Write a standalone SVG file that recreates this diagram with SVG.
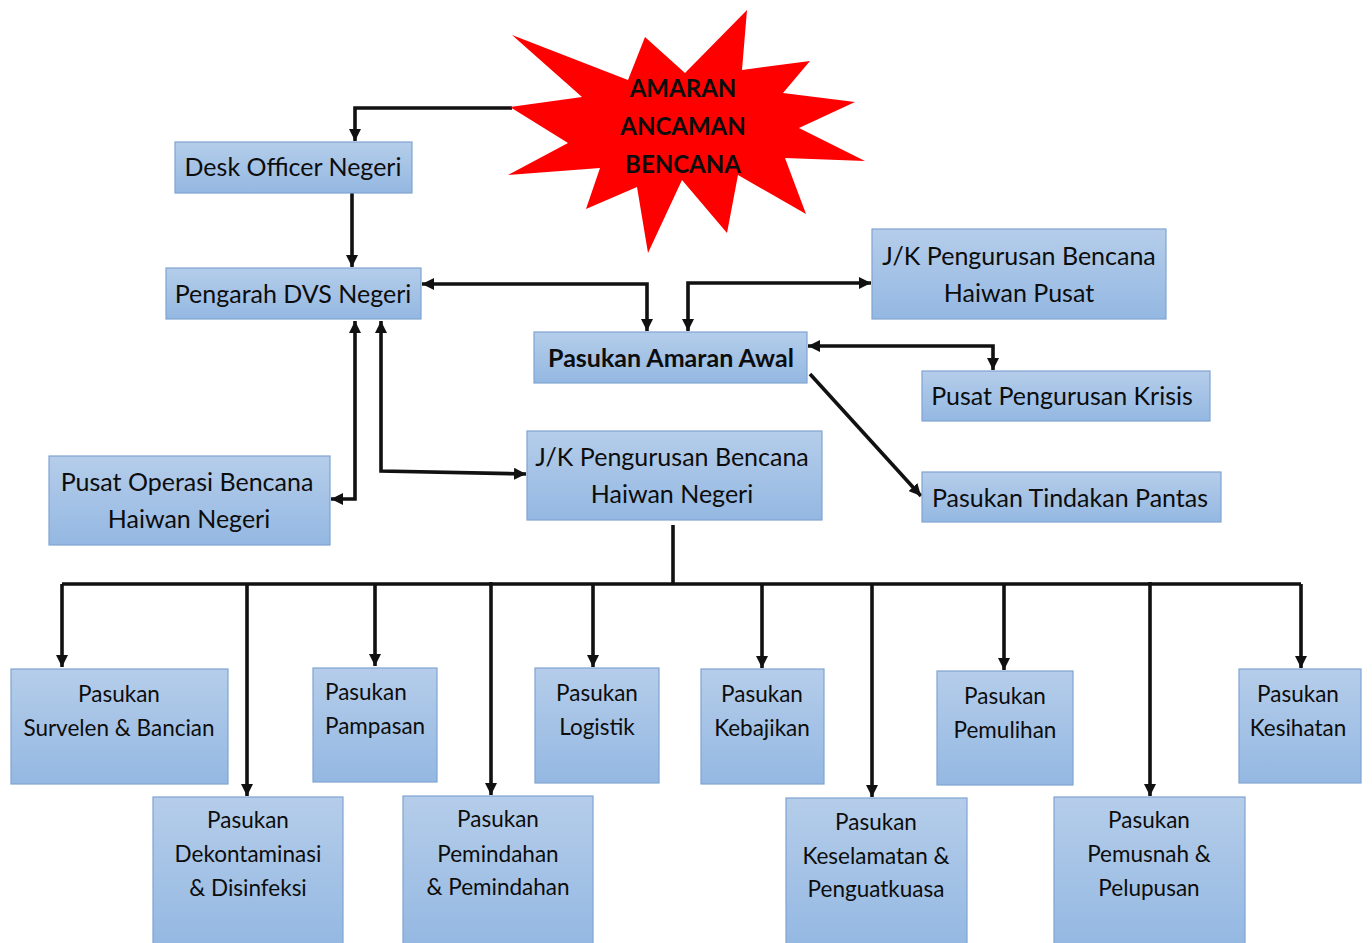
<svg xmlns="http://www.w3.org/2000/svg" width="1372" height="943" viewBox="0 0 1372 943">
<defs>
<linearGradient id="g" x1="0" y1="0" x2="0" y2="1">
<stop offset="0" stop-color="#b5cdea"/>
<stop offset="1" stop-color="#94b8e2"/>
</linearGradient>
<marker id="ah" markerUnits="userSpaceOnUse" markerWidth="12" markerHeight="12" viewBox="0 0 10 10" refX="10" refY="5" orient="auto-start-reverse">
<path d="M0,0 L10,5 L0,10 z" fill="#111"/>
</marker>
</defs>
<style>
.box{fill:url(#g);stroke:#7fa3d1;stroke-width:1.2}
.t{font-family:Lato,"Open Sans",sans-serif;fill:#0d0d0d;text-anchor:middle}
.tl{font-size:25px}
.ts{font-size:22.5px}
.b{font-weight:bold}
.c{fill:none;stroke:#111;stroke-width:3.6}
.a{marker-end:url(#ah)}
.aa{marker-start:url(#ah);marker-end:url(#ah)}
</style>
<rect width="1372" height="943" fill="#fff"/>

<g id="connectors">
<path class="c a" d="M512,108 H355 V141"/>
<path class="c a" d="M352,193 V267"/>
<path class="c aa" d="M422,284 H647 V331"/>
<path class="c aa" d="M688,331 V283 H871"/>
<path class="c aa" d="M808,346 H993 V370"/>
<path class="c a" d="M810,374 L921,496"/>
<path class="c aa" d="M355,321 V499 H331"/>
<path class="c aa" d="M381,321 V471 L526,474"/>
<path class="c" d="M673,525 V584"/>
<path class="c" d="M62,584 H1301"/>
<path class="c a" d="M62,584 V667"/>
<path class="c a" d="M247,584 V796"/>
<path class="c a" d="M375,584 V666"/>
<path class="c a" d="M491,582 V795"/>
<path class="c a" d="M593,584 V667"/>
<path class="c a" d="M762,584 V668"/>
<path class="c a" d="M872,584 V797"/>
<path class="c a" d="M1004,584 V670"/>
<path class="c a" d="M1150,582 V796"/>
<path class="c a" d="M1301,584 V668"/>
</g>

<g id="star">
<polygon fill="#ff0000" points="512,35 628,80 645,37 685,73 747,10 742,70 810,61 783,93 855,102 799,128 865,161 785,158 806,214 738,175 727,233 682,180 648,253 637,187 586,209 600,168 508,175 568,143 510,107 582,97"/>
<text class="t b" font-size="24" x="683" y="97">AMARAN</text>
<text class="t b" font-size="24" x="683" y="135">ANCAMAN</text>
<text class="t b" font-size="24" x="683" y="173">BENCANA</text>
</g>

<g id="desk-officer">
<rect class="box" x="175" y="142" width="237" height="51"/>
<text class="t tl" x="293" y="176">Desk Officer Negeri</text>
</g>
<g id="pengarah">
<rect class="box" x="166" y="268" width="255" height="51"/>
<text class="t tl" x="293" y="303">Pengarah DVS Negeri</text>
</g>
<g id="amaran-awal">
<rect class="box" x="534" y="332" width="273" height="51"/>
<text class="t tl b" x="671" y="367">Pasukan Amaran Awal</text>
</g>
<g id="jk-pusat">
<rect class="box" x="872" y="229" width="294" height="90"/>
<text class="t tl" x="1019" y="265">J/K Pengurusan Bencana</text>
<text class="t tl" x="1019" y="302">Haiwan Pusat</text>
</g>
<g id="krisis">
<rect class="box" x="922" y="371" width="288" height="50"/>
<text class="t tl" x="1062" y="405">Pusat Pengurusan Krisis</text>
</g>
<g id="tindakan-pantas">
<rect class="box" x="922" y="472" width="299" height="50"/>
<text class="t tl" x="1070" y="507">Pasukan Tindakan Pantas</text>
</g>
<g id="jk-negeri">
<rect class="box" x="527" y="431" width="295" height="89"/>
<text class="t tl" x="672" y="466">J/K Pengurusan Bencana</text>
<text class="t tl" x="672" y="503">Haiwan Negeri</text>
</g>
<g id="pusat-operasi">
<rect class="box" x="49" y="456" width="281" height="89"/>
<text class="t tl" x="187" y="491">Pusat Operasi Bencana</text>
<text class="t tl" x="189" y="528">Haiwan Negeri</text>
</g>

<g id="survelen">
<rect class="box" x="11" y="669" width="217" height="115"/>
<text class="t ts" x="119" y="702">Pasukan</text>
<text class="t ts" x="119" y="736">Survelen &amp; Bancian</text>
</g>
<g id="dekontaminasi">
<rect class="box" x="153" y="797" width="190" height="150"/>
<text class="t ts" x="248" y="828">Pasukan</text>
<text class="t ts" x="248" y="862">Dekontaminasi</text>
<text class="t ts" x="248" y="896">&amp; Disinfeksi</text>
</g>
<g id="pampasan">
<rect class="box" x="313" y="668" width="124" height="114"/>
<text class="t ts" x="325" y="700" style="text-anchor:start">Pasukan</text>
<text class="t ts" x="325" y="734" style="text-anchor:start">Pampasan</text>
</g>
<g id="pemindahan">
<rect class="box" x="403" y="796" width="190" height="151"/>
<text class="t ts" x="498" y="827">Pasukan</text>
<text class="t ts" x="498" y="862">Pemindahan</text>
<text class="t ts" x="498" y="895">&amp; Pemindahan</text>
</g>
<g id="logistik">
<rect class="box" x="535" y="668" width="124" height="115"/>
<text class="t ts" x="597" y="701">Pasukan</text>
<text class="t ts" x="597" y="735">Logistik</text>
</g>
<g id="kebajikan">
<rect class="box" x="701" y="669" width="123" height="115"/>
<text class="t ts" x="762" y="702">Pasukan</text>
<text class="t ts" x="762" y="736">Kebajikan</text>
</g>
<g id="keselamatan">
<rect class="box" x="786" y="798" width="181" height="149"/>
<text class="t ts" x="876" y="830">Pasukan</text>
<text class="t ts" x="876" y="864">Keselamatan &amp;</text>
<text class="t ts" x="876" y="897">Penguatkuasa</text>
</g>
<g id="pemulihan">
<rect class="box" x="937" y="671" width="136" height="114"/>
<text class="t ts" x="1005" y="704">Pasukan</text>
<text class="t ts" x="1005" y="738">Pemulihan</text>
</g>
<g id="pemusnah">
<rect class="box" x="1054" y="797" width="191" height="150"/>
<text class="t ts" x="1149" y="828">Pasukan</text>
<text class="t ts" x="1149" y="862">Pemusnah &amp;</text>
<text class="t ts" x="1149" y="896">Pelupusan</text>
</g>
<g id="kesihatan">
<rect class="box" x="1239" y="669" width="122" height="114"/>
<text class="t ts" x="1298" y="702">Pasukan</text>
<text class="t ts" x="1298" y="736">Kesihatan</text>
</g>
</svg>
